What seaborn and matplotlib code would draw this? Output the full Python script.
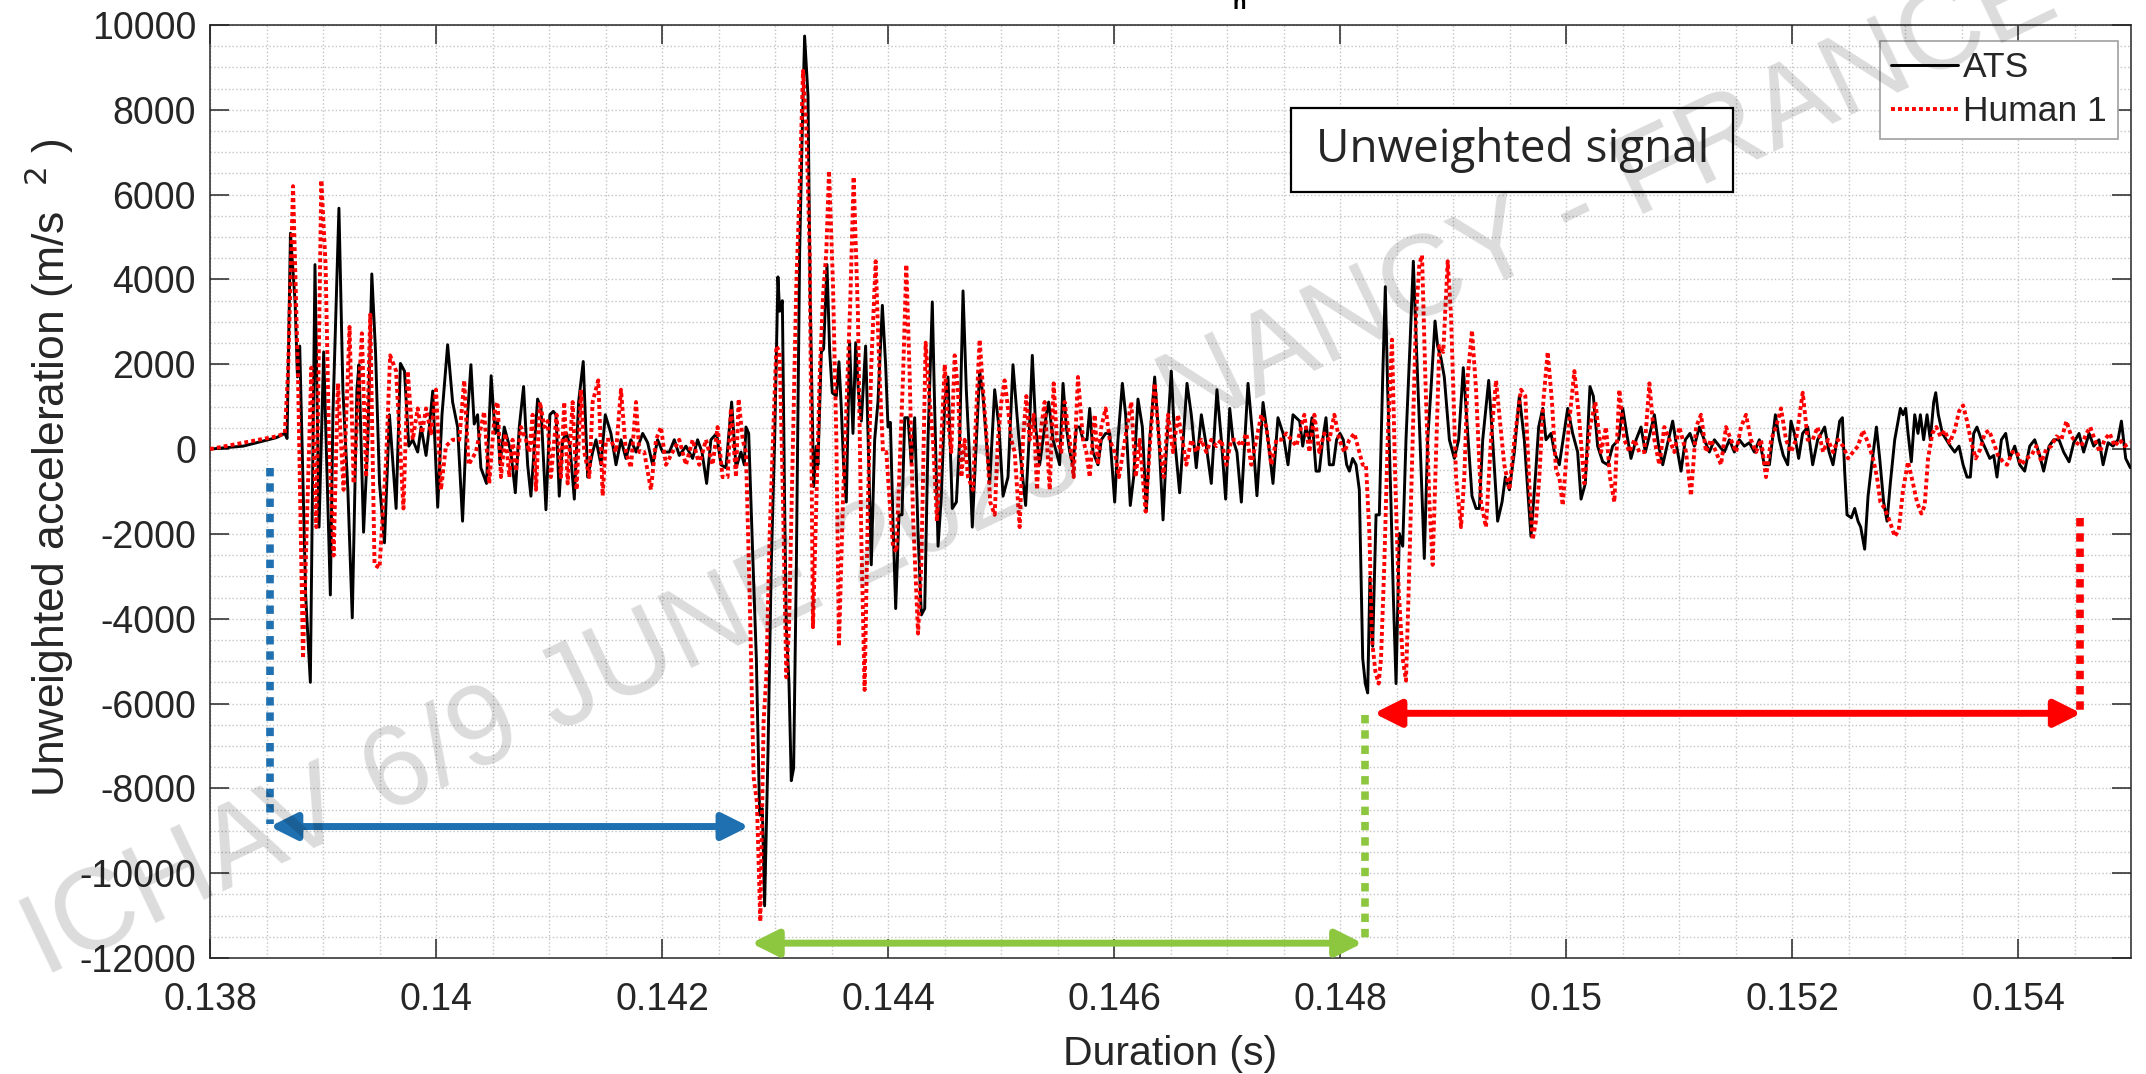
import numpy as np
import pandas as pd
import matplotlib.pyplot as plt
import seaborn as sns
from matplotlib.ticker import MultipleLocator
from matplotlib.patches import Rectangle

# ATS signal (time in ms, acceleration in m/s^2)
ats_t_ms = [
    138.000, 138.294, 138.588, 138.662, 138.682, 138.712, 138.753, 138.774, 138.794, 138.847,
    138.888, 138.929, 138.965, 139.006, 139.065, 139.088, 139.141, 139.176, 139.220, 139.259,
    139.300, 139.318, 139.359, 139.397, 139.432, 139.465, 139.500, 139.544, 139.588, 139.647,
    139.685, 139.721, 139.759, 139.794, 139.838, 139.868, 139.912, 139.941, 139.971, 140.015,
    140.053, 140.103, 140.147, 140.191, 140.235, 140.265, 140.309, 140.338, 140.368, 140.397,
    140.447, 140.488, 140.523,
    140.545, 140.566, 140.604, 140.634, 140.663, 140.702, 140.737, 140.775, 140.811, 140.840,
    140.899, 140.929, 140.973, 141.008, 141.038, 141.062, 141.091, 141.121, 141.156, 141.185,
    141.224, 141.262, 141.303, 141.342, 141.386, 141.416, 141.460, 141.498, 141.548, 141.593,
    141.637, 141.681, 141.725, 141.770, 141.829, 141.873, 141.917, 141.961, 142.006, 142.065,
    142.109, 142.153, 142.212, 142.271, 142.315, 142.354, 142.395, 142.433, 142.483, 142.522,
    142.566, 142.616, 142.655, 142.699, 142.728, 142.743, 142.767, 142.802,
    142.835, 142.864, 142.888, 142.908, 142.938, 142.967, 142.997, 143.026, 143.041, 143.065,
    143.085, 143.100, 143.124, 143.144, 143.165, 143.189, 143.218, 143.242, 143.262, 143.292,
    143.312, 143.342, 143.366, 143.380, 143.410, 143.430, 143.460, 143.484, 143.507, 143.543,
    143.566, 143.587, 143.607, 143.631, 143.660, 143.690, 143.714, 143.737, 143.764, 143.802,
    143.823, 143.852, 143.882, 143.911, 143.950, 143.979, 144.000, 144.021, 144.044, 144.068,
    144.097, 144.124, 144.148, 144.177, 144.207, 144.236, 144.266, 144.295, 144.325, 144.354,
    144.392, 144.413, 144.443, 144.472, 144.502, 144.531, 144.569, 144.605, 144.634, 144.664,
    144.693, 144.717, 144.746, 144.782, 144.811, 144.841, 144.870, 144.900, 144.944, 144.982,
    145.018, 145.062, 145.106, 145.150, 145.180, 145.218, 145.248, 145.277, 145.307, 145.342,
    145.401, 145.422, 145.460, 145.490, 145.519, 145.549, 145.578, 145.608, 145.637, 145.667,
    145.696, 145.726, 145.761, 145.785, 145.814, 145.858, 145.888, 145.926, 145.962, 146.006,
    146.035, 146.074, 146.103, 146.144, 146.174, 146.212, 146.251, 146.286, 146.316, 146.360,
    146.398, 146.434, 146.463, 146.507, 146.537, 146.581, 146.616, 146.646, 146.684, 146.728,
    146.773, 146.817, 146.861, 146.911, 146.950, 146.988, 147.024, 147.053, 147.088, 147.127,
    147.186, 147.230, 147.265, 147.319, 147.363, 147.407, 147.451, 147.496, 147.540, 147.584, 147.643,
    147.670, 147.699, 147.729, 147.752, 147.788, 147.817, 147.847, 147.876, 147.906, 147.941,
    147.970, 148.000, 148.029, 148.059, 148.083, 148.112, 148.142, 148.171, 148.201, 148.224,
    148.245, 148.265, 148.289, 148.319, 148.348, 148.378, 148.401, 148.422, 148.451, 148.472,
    148.496, 148.525, 148.555, 148.584, 148.619, 148.649, 148.678, 148.708, 148.746, 148.776,
    148.805, 148.841, 148.864, 148.894, 148.923, 148.968, 149.012, 149.050, 149.091, 149.130,
    149.168, 149.204, 149.233, 149.263, 149.316, 149.351, 149.395, 149.434, 149.463, 149.499,
    149.543, 149.587, 149.631, 149.661, 149.690, 149.729, 149.758, 149.794, 149.823, 149.868,
    149.897, 149.941,
    150.015, 150.059, 150.103, 150.133, 150.171, 150.212, 150.242, 150.280, 150.325, 150.369,
    150.413, 150.466, 150.502, 150.537, 150.575, 150.620, 150.664, 150.702, 150.743, 150.782,
    150.820, 150.856, 150.900, 150.944, 150.979, 151.018, 151.056, 151.097, 151.136, 151.180,
    151.224, 151.269, 151.313, 151.357, 151.401, 151.446, 151.490, 151.534, 151.578, 151.623,
    151.667, 151.711, 151.755, 151.800, 151.853, 151.888, 151.923, 151.962, 151.991, 152.021,
    152.059, 152.094, 152.139, 152.183, 152.227,
    152.289, 152.328, 152.363, 152.398, 152.422, 152.446, 152.466, 152.487, 152.525, 152.555,
    152.584, 152.608, 152.643, 152.673, 152.702, 152.747, 152.776, 152.811, 152.841, 152.870,
    152.909, 152.959, 152.983, 153.006, 153.027, 153.056, 153.086, 153.115, 153.136, 153.165,
    153.195, 153.224, 153.254, 153.272, 153.295, 153.331, 153.366, 153.401, 153.440, 153.478,
    153.514, 153.549, 153.578, 153.608, 153.637, 153.676, 153.714, 153.750, 153.785, 153.814,
    153.853, 153.891, 153.927, 153.971, 154.015, 154.059, 154.104, 154.148, 154.192, 154.227,
    154.275, 154.316, 154.363, 154.404, 154.452, 154.493, 154.540, 154.581, 154.629, 154.670,
    154.717, 154.753, 154.797, 154.841, 154.885, 154.915, 154.953, 154.994,
]
ats_acc = [
    0, 70, 270, 370, 250, 5090, 3470, 1700, 2430, -3470,
    -5500, 4350, -1840, 2290, -3440, 840, 5680, 1400, -960, -3980,
    1400, 1990, -1960, 220, 4130, 2290, -810, -2210, 810, -1400,
    2020, 1840, 70, 220, -70, 520, -150, 520, 1370, -1370,
    810, 2460, 1110, 520, -1700, 220, 1990, 590, 810, -440,
    -810, 1730, 370,
    660, -370, 520, 220, -70, -1030, 520, 1475, -370, -1110,
    1180, 960, -1430, 810, 890, 810, -1110, 220, 370, 70,
    -1180, 1110, 2065, -660, -70, 220, -370, 810, 370, -370,
    220, -220, 220, -70, 370, 150, -370, 220, -70, -70,
    220, -150, 70, -220, 220, -70, -810, 220, 370, -370,
    -440, 1110, -440, -70, -370, 520, 370, -2430,
    -4940, -8630, -8480, -10770, -7150, -2730, 220, 4060, 3250, 3500,
    -1250, -4200, -5530, -7820, -7520, -2730, 4650, 7600, 9740, 8330,
    3470, -885, 70, -370, 2290, 2360, 4350, 2290, 1330, 1250,
    2060, 960, -370, -1250, 2510, 370, 2510, 1400, 660, 2430,
    370, -2730, 220, 1110, 3390, 1990, 520, 630, -1700, -3760,
    -1550, -1550, 740, 740, -370, 740, -1990, -3910, -3760, 220,
    3470, 960, -2290, -1110, 1110, 1700, -1400, -1250, 220, 3730,
    1400, 70, -1840, 220, 1840, 1250, 220, -810, 1400, 520,
    -1110, -660, 1990, 520, -370, -1330, 220, 2210, 520, -370,
    810, 1110, 220, -70, -370, 1550, 520, -70, -370, 520,
    520, 220, 220, 960, -70, -370, 220, 370, 370, -1250,
    220, 1550, 810, -1330, -660, 1180, 520, -1475, 220, 1700,
    220, -1670, -70, 1840, 220, -1030, 370, 1550, 810, -440,
    810, 70, -810, 1400, 220, -1180, 960, 220, -70, -1250,
    1550, 220, -1100, 1100, 220, -810, 740, 370, -370, 810, 660,
    70, 520, 220, 740, -520, -520, 220, 740, -370, -370,
    220, 370, 220, -370, -520, -220, -370, -960, -4940, -5530,
    -5750, -3020, -4650, -1550, -1550, 1700, 3830, 1400, -1250, -3470,
    -5530, -1990, -2290, 220, 2430, 4430, 2290, 220, -2580, 220,
    1400, 3020, 2430, 2140, 1700, 220, -220, 220, 1920, 370,
    -1110, -1400, -1400, 220, 1620, 220, -1700, -1250, -660, -960,
    -70, 1250, 220, -960, -2060, -660, 520, 960, 220, 370,
    -70, -370,
    960, 370, -70, -1180, -810, 1475, 1250, 70, -300, -370,
    70, 220, 960, 370, -220, 220, 520, -70, 370, 810,
    70, -370, 150, 660, 70, -520, 220, 370, 70, 520,
    220, -70, 220, 70, -70, 220, -70, 220, 70, 150,
    -70, 220, -370, -370, 810, 220, -150, -370, 660, 370,
    -220, 370, 520, -370, 220,
    520, -70, -370, 220, 660, 740, -520, -1550, -1620, -1400,
    -1700, -1840, -2360, -1110, -440, 520, -220, -1250, -1700, -810,
    220, 960, 810, 960, 370, -300, 810, 370, 810, 220,
    810, 220, 1110, 1330, 810, 370, 220, 70, -70, 70,
    -370, -660, -660, 370, 520, 220, 0, -220, -150, -660,
    220, 370, -220, 70, -370, -520, 70, 220, -150, -520,
    70, 220, 220, -70, -300, 150, 370, -70, 370, 70,
    220, -370, 150, 70, 220, 660, -220, -440,
]

# Human 1 signal
human_t_ms = [
    138.000, 138.588, 138.662, 138.691, 138.735, 138.779, 138.823, 138.897, 138.941, 138.985,
    139.023, 139.053, 139.094, 139.132, 139.182, 139.235, 139.271, 139.344, 139.382, 139.418,
    139.456, 139.500, 139.559, 139.594, 139.647, 139.712, 139.750, 139.794, 139.838, 139.876,
    139.912, 139.956, 140.000, 140.044, 140.088, 140.147, 140.206, 140.250, 140.288, 140.353,
    140.426, 140.471, 140.523,
    140.545, 140.575, 140.613, 140.649, 140.678, 140.708, 140.752, 140.796, 140.826, 140.855,
    140.885, 140.920, 140.958, 140.988, 141.017, 141.047, 141.067, 141.106, 141.135, 141.165,
    141.209, 141.244, 141.283, 141.312, 141.357, 141.386, 141.436, 141.475, 141.504, 141.548,
    141.593, 141.637, 141.681, 141.725, 141.770, 141.799, 141.843, 141.902, 141.947, 141.991,
    142.035, 142.094, 142.153, 142.212, 142.271, 142.330, 142.389, 142.448, 142.492, 142.536,
    142.581, 142.610, 142.655, 142.678, 142.714, 142.743,
    142.776, 142.811, 142.840, 142.870, 142.899, 142.923, 142.953, 142.982, 143.012, 143.041,
    143.071, 143.100, 143.124, 143.159, 143.189, 143.218, 143.248, 143.277, 143.307, 143.336,
    143.366, 143.395, 143.425, 143.454, 143.478, 143.513, 143.543, 143.566, 143.601, 143.631,
    143.666, 143.696, 143.734, 143.764, 143.793, 143.823, 143.852, 143.891, 143.926, 143.956,
    143.985, 144.015, 144.044, 144.074, 144.103, 144.133, 144.162, 144.192, 144.221, 144.266,
    144.295, 144.333, 144.369, 144.398, 144.433, 144.472, 144.502, 144.531, 144.560, 144.590,
    144.619, 144.649, 144.678, 144.708, 144.752, 144.782, 144.811, 144.841, 144.870, 144.905,
    144.944, 144.973, 145.003, 145.032, 145.062, 145.091, 145.121, 145.165, 145.195, 145.224,
    145.254, 145.289, 145.319, 145.342,
    145.386, 145.431, 145.466, 145.495, 145.534, 145.563, 145.608, 145.643, 145.681, 145.726,
    145.755, 145.785, 145.829, 145.858, 145.888, 145.926, 145.962, 146.006, 146.044, 146.080,
    146.115, 146.153, 146.192, 146.227, 146.280, 146.321, 146.360, 146.398, 146.439, 146.478,
    146.522, 146.566, 146.605, 146.640, 146.684, 146.728, 146.773, 146.817, 146.861, 146.906,
    146.950, 146.994, 147.038, 147.083, 147.127, 147.171, 147.215, 147.260, 147.304, 147.348,
    147.392, 147.437, 147.481, 147.525, 147.569, 147.614,
    147.684, 147.729, 147.773, 147.817, 147.861, 147.906, 147.950, 147.994, 148.038, 148.083,
    148.127, 148.171, 148.201, 148.230, 148.260, 148.283, 148.313, 148.342, 148.363, 148.392,
    148.422, 148.460, 148.490, 148.519, 148.555, 148.584, 148.614, 148.643, 148.673, 148.702,
    148.726, 148.755, 148.791, 148.820, 148.850, 148.879, 148.914, 148.953, 148.982, 149.027,
    149.071, 149.100, 149.130, 149.168, 149.204, 149.248, 149.292, 149.336, 149.381, 149.410,
    149.454, 149.499, 149.543, 149.602, 149.640, 149.675, 149.705, 149.734, 149.764, 149.799,
    149.838, 149.876, 149.912, 149.941,
    149.971, 150.024, 150.074, 150.118, 150.162, 150.212, 150.260, 150.310, 150.354, 150.389,
    150.428, 150.472, 150.516, 150.561, 150.605, 150.649, 150.693, 150.738, 150.782, 150.826,
    150.870, 150.915, 150.959, 151.003, 151.062, 151.106, 151.151, 151.195, 151.239, 151.283,
    151.328, 151.372, 151.416, 151.460, 151.505, 151.549, 151.593, 151.637, 151.682, 151.726,
    151.770, 151.815, 151.859, 151.903, 151.947, 151.991, 152.036, 152.095, 152.139, 152.183,
    152.227,
    152.275, 152.319, 152.363, 152.407, 152.452, 152.496, 152.540, 152.584, 152.628, 152.673,
    152.717, 152.752, 152.782, 152.820, 152.865, 152.909, 152.944, 152.983, 153.027, 153.071,
    153.106, 153.145, 153.174, 153.204, 153.242, 153.277, 153.313, 153.351, 153.395, 153.440,
    153.478, 153.514, 153.549, 153.587, 153.626, 153.667, 153.705, 153.744, 153.785, 153.823,
    153.868, 153.903, 153.950, 153.991, 154.030, 154.074, 154.118, 154.163, 154.207, 154.251,
    154.295, 154.340, 154.384, 154.428, 154.472, 154.517, 154.561, 154.605, 154.640, 154.679,
    154.723, 154.767, 154.811, 154.856, 154.900, 154.944, 154.994,
]
human_acc = [
    0, 300, 370, 1840, 6200, 1700, -4940, 1920, -1840, 6340,
    4350, 220, -2510, 1550, -960, 2880, -810, 2730, -660, 3170,
    -2730, -2800, -220, 2210, 1840, -1400, 1840, 220, 960, 370,
    960, 370, 1400, -960, 70, 220, 220, 1620, -370, -70,
    880, -810, 960,
    1110, -660, 370, -660, 220, -520, 520, 220, -70, 810,
    -960, 1110, 520, 660, -660, 220, 810, -660, 1110, -810,
    1110, -960, 1400, -70, -660, 1110, 1620, -1100, 220, 220,
    -70, 1400, -70, -440, 1110, -70, -70, -960, 220, 520,
    -370, -70, 220, -370, 220, -370, 220, -370, 520, -660,
    -660, 960, -660, 1180, 220, -70,
    -3470, -7740, -8330, -11140, -6420, -5380, -1990, 220, 2430, 2290,
    -1250, -5380, -4200, 220, 3910, 6120, 8920, 7600, 4650, -4200,
    -1250, 1700, 3610, 4650, 6560, 3910, 220, -4650, -1250, 960,
    3470, 6420, 3170, -2140, -5680, -1250, 1990, 4430, 1700, -70,
    -70, -1250, -2290, -2430, -370, 1700, 4350, 1700, -1550, -4350,
    -2730, 2510, 1110, 220, -1700, 220, 1990, 660, -70, 2210,
    1400, -660, 220, -660, -960, 960, 2580, 1400, 370, -1250,
    -1550, 220, 1110, 1620, 960, 220, -70, -1840, 220, 1250,
    220, 810, -960, 220,
    1110, -960, 1550, 220, -70, 1110, 220, -660, 1700, 220,
    -70, -660, 810, -370, 520, 960, 220, -70, -660, -70,
    520, 1110, -660, 220, -1475, 220, 1550, 220, -660, 810,
    -70, 810, 220, -370, 220, -70, 220, -70, 220, 70,
    220, -370, 220, 220, 70, 370, -370, 220, 810, 520,
    -370, 220, 220, 370, 220, 70,
    810, -70, 810, -70, 370, 220, 810, 220, -70, 220,
    370, -70, -370, -370, -1990, -4500, -5240, -5530, -4940, -2730,
    220, 2580, -810, -3320, -4940, -5460, -2730, 220, 3170, 4350,
    4570, 1700, -1250, -2730, -70, 2430, 2290, 4430, 3170, -660,
    -1840, -660, 1700, 2800, 1400, -1250, -1840, 220, 1620, 810,
    -370, -960, 220, 1400, 1250, -810, -2140, -1700, -660, 1110,
    2290, 1110, -520, -660,
    -1330, 520, 1840, 660, -810, 520, 1110, -70, 520, -660,
    -1250, 1400, 220, -70, 220, -70, -70, 1550, 220, -370,
    520, 220, -70, 520, -70, -1100, 520, 810, -70, 220,
    -70, -370, 520, 220, -70, 520, 810, 220, -70, 220,
    -660, 220, 520, 960, 220, -70, 220, 1330, 220, 220,
    520,
    -70, 220, -70, 220, 70, -220, -70, 70, 440, 150,
    -220, -660, -1250, -1400, -1700, -2060, -1920, -960, -300, -810,
    -1250, -1520, -1330, -220, 370, 520, 300, 440, 150, 440,
    890, 1030, 660, 150, -220, 0, 370, 440, 150, -150,
    -300, -370, -70, -70, -370, -220, -150, 70, -300, 0,
    70, 300, 220, 660, 300, 150, 70, 370, 520, 220,
    -70, 220, 370, 70, 220, 70, 150,
]

# axis ticks
x_ticks = [0.138, 0.140, 0.142, 0.144, 0.146, 0.148, 0.150, 0.152, 0.154]
x_tick_labels = ['0.138', '0.14', '0.142', '0.144', '0.146', '0.148', '0.15', '0.152', '0.154']
y_ticks = [-12000, -10000, -8000, -6000, -4000, -2000, 0, 2000, 4000, 6000, 8000, 10000]

# phase annotations: dotted markers and double arrows (ms, m/s^2)
phase_colors = ['#1F70B0', '#8DC63F', '#FF0000']
marker_t_ms = [138.53, 148.22, 154.55]
marker_top = [-440, -6270, -1620]
marker_bottom = [-8850, -11580, -6200]
span_start_ms = [138.53, 142.79, 148.30]
span_end_ms = [142.77, 148.20, 154.56]
span_level = [-8900, -11650, -6230]

ats = pd.DataFrame({'t': np.array(ats_t_ms) / 1000, 'acc': ats_acc})
human = pd.DataFrame({'t': np.array(human_t_ms) / 1000, 'acc': human_acc})

sns.set_style('ticks')
plt.rcParams['font.family'] = ['Liberation Sans', 'DejaVu Sans']
plt.rcParams['axes.unicode_minus'] = False

fig = plt.figure(figsize=(21.46, 10.74), dpi=100)
ax = fig.add_axes([210 / 2146, 1 - 958 / 1074, 1921 / 2146, 933 / 1074])

sns.lineplot(data=ats, x='t', y='acc', ax=ax, color='black', lw=2.1,
             estimator=None, sort=False, label='ATS', zorder=3)
sns.lineplot(data=human, x='t', y='acc', ax=ax, color='red', lw=2.8,
             linestyle=(0, (1, 0.8)), estimator=None, sort=False,
             label='Human 1', zorder=4)

ax.set_xlim(0.138, 0.155)
ax.set_ylim(-12000, 10000)
ax.set_xticks(x_ticks)
ax.set_xticklabels(x_tick_labels)
ax.set_yticks(y_ticks)
ax.set_yticklabels([str(v) for v in y_ticks])
ax.xaxis.set_minor_locator(MultipleLocator(0.0005))
ax.yaxis.set_minor_locator(MultipleLocator(500))
ax.grid(which='both', linestyle=':', color='#c4c4c4', lw=1.0)
ax.set_axisbelow(True)
ax.tick_params(which='major', direction='in', length=14, width=1.1,
               top=True, right=True, labelsize=27, colors='#262626')
ax.tick_params(axis='x', which='major', pad=17)
ax.tick_params(axis='y', which='major', pad=10)
ax.tick_params(which='minor', length=0)
for s in ax.spines.values():
    s.set_color('#262626')
    s.set_linewidth(1.1)

ax.set_xlabel('Duration (s)', fontsize=29.5, color='#262626')
ax.xaxis.set_label_coords(0.5, -0.082)
ax.set_ylabel('Unweighted acceleration (m/s  $^{2}$ )', fontsize=32, color='#262626')
ax.yaxis.set_label_coords(-0.070, 0.526)

# phase markers and arrows
for i in range(3):
    xm = marker_t_ms[i] / 1000
    ax.plot([xm, xm], [marker_top[i], marker_bottom[i]], color=phase_colors[i],
            lw=5.5, linestyle=(0, (1.1, 0.9)), zorder=5)
    ax.annotate('', xy=(span_end_ms[i] / 1000, span_level[i]),
                xytext=(span_start_ms[i] / 1000, span_level[i]),
                arrowprops=dict(arrowstyle='<|-|>,head_length=1.0,head_width=0.5',
                                color=phase_colors[i], lw=5, shrinkA=0, shrinkB=0,
                                mutation_scale=16), zorder=5)

# "Unweighted signal" box
ax.add_patch(Rectangle((0.5627, 0.821), 0.2301, 0.090, transform=ax.transAxes,
                       fc='white', ec='black', lw=1.6, zorder=6))
ax.text(0.678, 0.853, 'Unweighted signal', transform=ax.transAxes,
        ha='center', va='baseline', fontsize=33, family='Open Sans', zorder=7)

leg = ax.legend(loc='upper right', bbox_to_anchor=(0.993, 0.983), fontsize=25.5,
                frameon=True, fancybox=False, edgecolor='#a0a0a0', framealpha=1,
                borderaxespad=0, handlelength=1.9, handletextpad=0.15,
                labelspacing=0.3, borderpad=0.3)
leg.get_frame().set_linewidth(1.2)
leg.set_zorder(8)

# clipped title glyph at the top edge
fig.text(1239 / 2146, 1 - 9 / 1074, 'n', ha='center', va='baseline',
         fontsize=16, fontweight='bold', color='black')

# watermark
fig.text(0.4845, 0.564, 'ICHAV 6/9 JUNE 2023 - NANCY - FRANCE', rotation=25.5,
         rotation_mode='anchor', ha='center', va='center', fontsize=83,
         color='black', alpha=0.14, zorder=20)

fig.savefig('out.png', dpi=100)
